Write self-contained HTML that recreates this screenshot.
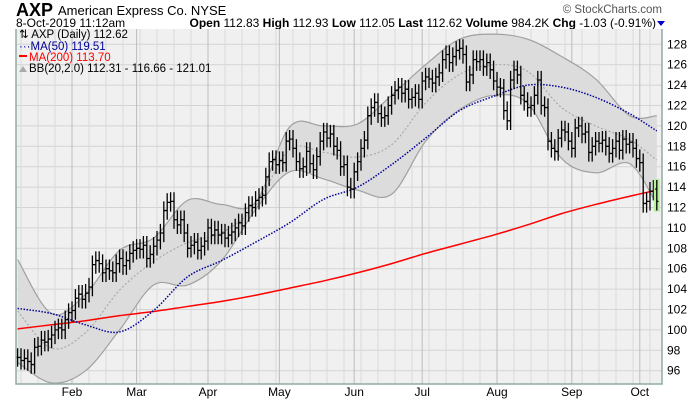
<!DOCTYPE html>
<html><head><meta charset="utf-8"><style>
body{margin:0;background:#fff;font-family:"Liberation Sans",sans-serif;}
svg text{font-family:"Liberation Sans",sans-serif;}
</style></head><body>
<svg id="chart" width="700" height="400" viewBox="0 0 700 400" xmlns="http://www.w3.org/2000/svg">
<rect x="0" y="0" width="700" height="400" fill="#fff"/>
<text x="16" y="16" font-size="18" font-weight="bold">AXP</text>
<text x="58" y="15" font-size="13">American Express Co. NYSE</text>
<text x="16" y="27" font-size="12">8-Oct-2019 11:12am</text>
<text x="662" y="13" font-size="11.5" fill="#555" text-anchor="end">© StockCharts.com</text>
<text x="656" y="27" font-size="12" text-anchor="end"><tspan font-weight="bold">Open</tspan> 112.83 <tspan font-weight="bold">High</tspan> 112.93 <tspan font-weight="bold">Low</tspan> 112.05 <tspan font-weight="bold">Last</tspan> 112.62 <tspan font-weight="bold">Volume</tspan> 984.2K <tspan font-weight="bold">Chg</tspan> -1.03 (-0.91%)</text>
<polygon points="657,21 665,21 661,26" fill="#0000cc"/>
<rect x="16" y="29" width="646" height="355" fill="#f0f0f0"/>
<g id="grid"></g>
<g id="marks"></g>
<g id="axes"></g>
<g>
<text x="19" y="38" font-size="11.5">⇅ AXP (Daily) 112.62</text>
<text x="19" y="50" font-size="11.5" fill="#000099">···MA(50) 119.51</text>
<rect x="19" y="55" width="8" height="2" fill="#ff0000"/>
<text x="29" y="61" font-size="11.5" fill="#ff0000">MA(200) 113.70</text>
<polygon points="19,72 23,66 27,72" fill="#aaa"/>
<text x="29" y="72" font-size="11.5">BB(20,2.0) 112.31 - 116.66 - 121.01</text>
</g>
</svg>
<script>
const closes=[97.3,97,97.2,96.9,96.6,98.3,98.4,99,98.8,99.1,99.5,100,100.2,100,101,101.7,101.9,103.1,103.5,103,103.6,104.2,106.4,106.8,106.5,105.6,106,105.8,105.6,106.5,107,106.3,106.8,107.5,107.8,108,107.9,108.3,107,107.4,108.2,108.8,109.5,111.7,112.5,112.6,110.8,110.3,110.8,109.5,108,108.3,108.6,107.8,108.2,108.7,110,109.3,109.8,109.3,109.5,109,109.3,109.6,110,110.5,110.2,111.5,112.2,112,112.7,113,113.2,115,116.5,116.7,116.2,116.6,116.4,118.5,118.7,117.8,116.5,115.8,116,117.5,116.3,115.7,117,118.5,119.4,118.8,119.2,118,117.6,116,116.2,114,113.8,115.5,116.5,117.8,118.6,121,121.8,122.3,121.2,120.8,121,122,123,123.5,123.8,123.2,123.6,122.6,122.8,123.2,122.6,124.4,124.8,124.6,124.2,124.8,125.2,126.5,127,126.2,126.8,127.4,127.6,127,124.3,125,126.5,126.3,126.5,125.8,126.2,125.5,124.4,123.8,123.7,121.5,120.5,124.5,125.5,125,123,122.4,121.8,122,123,124.5,122,121.8,118.5,117.8,117.5,118.8,119.6,119.4,118.5,117.8,119.8,120,119.2,119.4,117.4,118,118.5,118.3,118.6,118,117.3,117.8,118.5,117.6,118.7,118.2,118.4,117.8,116.8,116.4,112.4,112.6,113.6,113.8,112.6];
const sampleIdx=[0,10,20,30,40,50,60,70,80,90,100,110,120,130,140,150,160,170,180,188];
const ma200=[100.1,100.5,100.9,101.4,101.8,102.3,102.8,103.4,104.1,104.8,105.6,106.5,107.5,108.4,109.3,110.3,111.4,112.3,113.1,113.7];
const ma50=[102.1,101.6,100.5,99.8,101.9,105.2,106.8,108.6,110.5,112.8,114.0,116.2,118.8,121.5,122.9,124.0,123.8,122.8,121.2,119.5];
const bbUpper=[106.9,101.6,103.5,107.8,109.0,112.7,112.3,112.5,119.9,120.0,120.2,123.0,126.0,128.5,129.0,128.5,126.8,124.6,121.0,121.0];
const bbLower=[96.8,94.8,96.0,100.0,104.4,104.4,106.8,111.8,115.5,114.8,113.7,113.3,118.5,121.6,123.0,122.2,116.8,115.4,116.3,112.3];
const yTicks=[96,98,100,102,104,106,108,110,112,114,116,118,120,122,124,126,128];
const monthLabels=["Feb","Mar","Apr","May","Jun","Jul","Aug","Sep","Oct"];
const monthIdx=[16,35,56,77,99,119,141,163,183];

const NS="http://www.w3.org/2000/svg";
const L=16,R=662,T=29,B=384;
function X(i){return 17.6+i*3.4;}
function Y(p){return 207.5-(p-112)*10.2;}
function mk(tag,attrs,parent){const e=document.createElementNS(NS,tag);for(const k in attrs)e.setAttribute(k,attrs[k]);parent.appendChild(e);return e;}
const grid=document.getElementById('grid'),marks=document.getElementById('marks'),axes=document.getElementById('axes');
yTicks.forEach(v=>{const l=mk('line',{x1:L,x2:R,y1:Y(v),y2:Y(v),stroke:'#d4d4d4','stroke-width':1},grid);


const t=mk('text',{x:R+5,y:Y(v)+4,'font-size':12},axes);t.textContent=v;

});
for(let i=1;i<189;i+=5){const l=mk('line',{x1:X(i),x2:X(i),y1:T,y2:B,stroke:'#dadada','stroke-width':1},grid);

}
monthIdx.forEach((m,k)=>{const x=X(m);const l=mk('line',{x1:x,x2:x,y1:T,y2:B,stroke:'#bcbcbc','stroke-width':1},grid);


const t=mk('text',{x:x,y:396,'font-size':12,'text-anchor':'middle'},axes);t.textContent=monthLabels[k];

});
function seg(idx,vals){const pts=idx.map((s,k)=>[X(s),Y(vals[k])]);let d='';
for(let k=0;k<pts.length-1;k++){const p0=pts[Math.max(0,k-1)],p1=pts[k],p2=pts[k+1],p3=pts[Math.min(pts.length-1,k+2)];
const c1=[p1[0]+(p2[0]-p0[0])/6,p1[1]+(p2[1]-p0[1])/6],c2=[p2[0]-(p3[0]-p1[0])/6,p2[1]-(p3[1]-p1[1])/6];
d+=` C${c1[0]},${c1[1]} ${c2[0]},${c2[1]} ${p2[0]},${p2[1]}`;}return d;}
function smooth(vals){return 'M'+X(sampleIdx[0])+','+Y(vals[0])+seg(sampleIdx,vals);}
const bbMid=bbUpper.map((u,k)=>(u+bbLower[k])/2);
const up=smooth(bbUpper);
const revIdx=sampleIdx.slice().reverse();
const band=mk('path',{d:up+' L'+X(188)+','+Y(bbLower[19])+seg(revIdx,bbLower.slice().reverse())+' Z',fill:'#dcdcdc',stroke:'none'},marks);


const bu=mk('path',{d:up,fill:'none',stroke:'#a0a0a0','stroke-width':1.2},marks);


const bl=mk('path',{d:smooth(bbLower),fill:'none',stroke:'#a0a0a0','stroke-width':1.2},marks);


const bm=mk('path',{d:smooth(bbMid),fill:'none',stroke:'#aaaaaa','stroke-width':1.2,'stroke-dasharray':'2,2'},marks);


const m2=mk('path',{d:smooth(ma200),fill:'none',stroke:'#ff0000','stroke-width':1.5},marks);


const m5=mk('path',{d:smooth(ma50),fill:'none',stroke:'#000099','stroke-width':1.5,'stroke-dasharray':'1.5,1.5'},marks);


closes.forEach((c,i)=>{const prev=i>0?closes[i-1]:c;const hi=Math.max(c,prev)+0.9,lo=Math.min(c,prev)-0.9;const x=X(i);
if(i===closes.length-1){const hl=mk('rect',{x:x-3,y:Y(hi)-1,width:6,height:Y(lo)-Y(hi)+2,fill:'#b8f0a0'},marks);

}
const g=mk('path',{d:`M${x},${Y(hi)}V${Y(lo)}M${x-1.7},${Y(prev)}H${x}M${x},${Y(c)}H${x+1.7}`,stroke:'#000','stroke-width':1.3,fill:'none'},marks);

});
const ax=mk('path',{d:`M${L},${T}V${B}H${R}V${T}`,fill:'none',stroke:'#90aaa0','stroke-width':1.5},axes);


</script>
</body></html>
